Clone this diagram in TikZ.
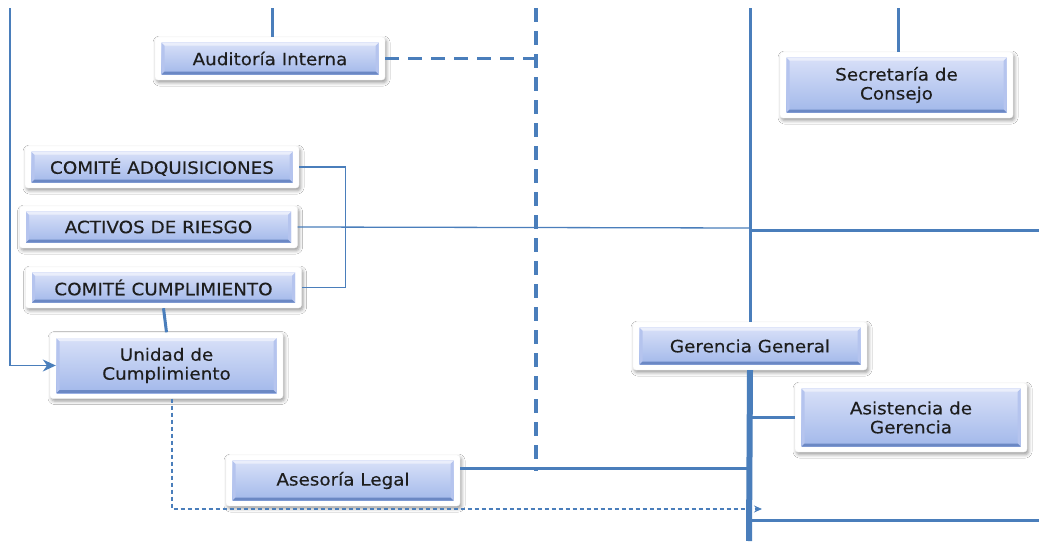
\documentclass[tikz,border=0pt]{standalone}
\usepackage{fontspec}
\setmainfont{DejaVu Sans}[FakeStretch=1.08, FakeBold=0.25]
\usetikzlibrary{arrows.meta,shadows.blur}

\definecolor{linkblue}{HTML}{4A7EBB}
\definecolor{boxtop}{HTML}{D8E0F8}
\definecolor{boxbot}{HTML}{A2B8EA}
\definecolor{bevlow}{HTML}{6B88C4}
\definecolor{bevhigh}{HTML}{EAEEFB}
\definecolor{bevside}{HTML}{B5C4EE}
\definecolor{ink}{HTML}{1E1E1E}

\tikzset{
  orgbox/.style={
    fill=white, draw=black!5, rounded corners=3pt,
    blur shadow={shadow xshift=1.5pt, shadow yshift=-2.5pt,
                 shadow blur radius=3.5pt, shadow opacity=40},
    align=center, text=ink, inner sep=0pt,
    font=\fontsize{17}{19}\selectfont,
    path picture={
      \path (path picture bounding box.north west) ++(6.5pt,-5.5pt) coordinate (bxa)
            (path picture bounding box.south east) ++(-6.5pt,5.5pt) coordinate (bxb);
      \shade[top color=boxtop, bottom color=boxbot, sharp corners] (bxa) rectangle (bxb);
      \fill[bevside, sharp corners] (bxa) -- ([shift={(3pt,-3pt)}]bxa) -- ([shift={(3pt,3pt)}]bxa |- bxb) -- (bxa |- bxb) -- cycle;
      \fill[bevside, sharp corners] (bxb) -- ([shift={(-3pt,3pt)}]bxb) -- ([shift={(-3pt,-3pt)}]bxa -| bxb) -- (bxa -| bxb) -- cycle;
      \fill[bevlow, sharp corners] (bxa |- bxb) -- (bxb) -- ([shift={(-3pt,3pt)}]bxb) -- ([shift={(3pt,3pt)}]bxa |- bxb) -- cycle;
      \fill[bevhigh, sharp corners] (bxa) -- (bxa -| bxb) -- ([shift={(-3pt,-3pt)}]bxa -| bxb) -- ([shift={(3pt,-3pt)}]bxa) -- cycle;
    }
  },
  trunk/.style={draw=linkblue, line width=3pt},
  bigtrunk/.style={draw=linkblue, line width=6pt},
  thinlink/.style={draw=linkblue, line width=1.3pt},
  dashtrunk/.style={draw=linkblue, line width=3.2pt, dash pattern=on 14pt off 9pt},
  dashthin/.style={draw=linkblue, line width=1.1pt, dash pattern=on 4pt off 3pt},
}

\begin{document}
\begin{tikzpicture}[x=1pt, y=-1pt]
\useasboundingbox[fill=white] (0,0) rectangle (1039,541);

% free ends of the connectors
\coordinate (leftTop) at (10,8);
\coordinate (audTop) at (272,8);
\coordinate (dashTop) at (536,8);
\coordinate (dashBot) at (536,471);
\coordinate (mainTop) at (750,8);
\coordinate (secTop) at (898,8);
\coordinate (actJoin) at (750,228);
\coordinate (rightA1) at (750,230);
\coordinate (rightA2) at (1039,230);
\coordinate (gerBot) at (749,541);
\coordinate (dashEnd) at (762,509);
\coordinate (rightB1) at (749,520);
\coordinate (rightB2) at (1039,520);

% units
\node[orgbox, minimum width=230pt, minimum height=43pt] (aud)  at (270,58.5) {Auditoría Interna};
\node[orgbox, minimum width=233pt, minimum height=66pt] (sec)  at (896.5,85) {Secretaría de\\Consejo};
\node[orgbox, minimum width=274pt, minimum height=42pt] (cadq) at (162,167) {COMITÉ ADQUISICIONES};
\node[orgbox, minimum width=278pt, minimum height=42pt] (act)  at (158.5,227) {ACTIVOS DE RIESGO};
\node[orgbox, minimum width=276pt, minimum height=41pt] (ccum) at (163.5,287.5) {COMITÉ CUMPLIMIENTO};
\node[orgbox, minimum width=233pt, minimum height=66pt] (uni)  at (166.5,365.5) {Unidad de\\Cumplimiento};
\node[orgbox, minimum width=234pt, minimum height=48pt] (ger)  at (750,346) {Gerencia General};
\node[orgbox, minimum width=232pt, minimum height=69pt] (asis) at (911,417.5) {Asistencia de\\Gerencia};
\node[orgbox, minimum width=234pt, minimum height=51pt] (ase)  at (343,480.5) {Asesoría Legal};

% connectors
\draw[thinlink, -{Stealth[length=13pt,width=12pt]}, shorten >=-6pt] (leftTop) |- (uni.west);
\draw[trunk] (audTop) -- (audTop |- aud.north);
\draw[dashtrunk] (aud.east) -- (aud.east -| dashTop);
\draw[dashtrunk] (dashTop) -- (dashBot);
\draw[thinlink] (cadq.east) -- ++(46,0) |- (ccum.east);
\draw[thinlink] (act.east) -- (actJoin);
\draw[trunk] (rightA1) -- (rightA2);
\draw[trunk] (ccum.south) -- (uni.north);
\draw[trunk] (mainTop) -- (ger.north);
\draw[trunk] (secTop) -- (secTop |- sec.north);
\draw[trunk] (asis.west) -- (asis.west -| ger.south);
\draw[trunk] ([yshift=12pt]ase.east) -- ([yshift=12pt]ase.east -| ger.south);
\draw[trunk] (rightB1) -- (rightB2);
\draw[dashthin, -{Stealth[length=8pt,width=7pt]}] ([xshift=5.5pt]uni.south) |- (dashEnd);
\draw[bigtrunk] (ger.south) -- (gerBot);
\end{tikzpicture}
\end{document}
